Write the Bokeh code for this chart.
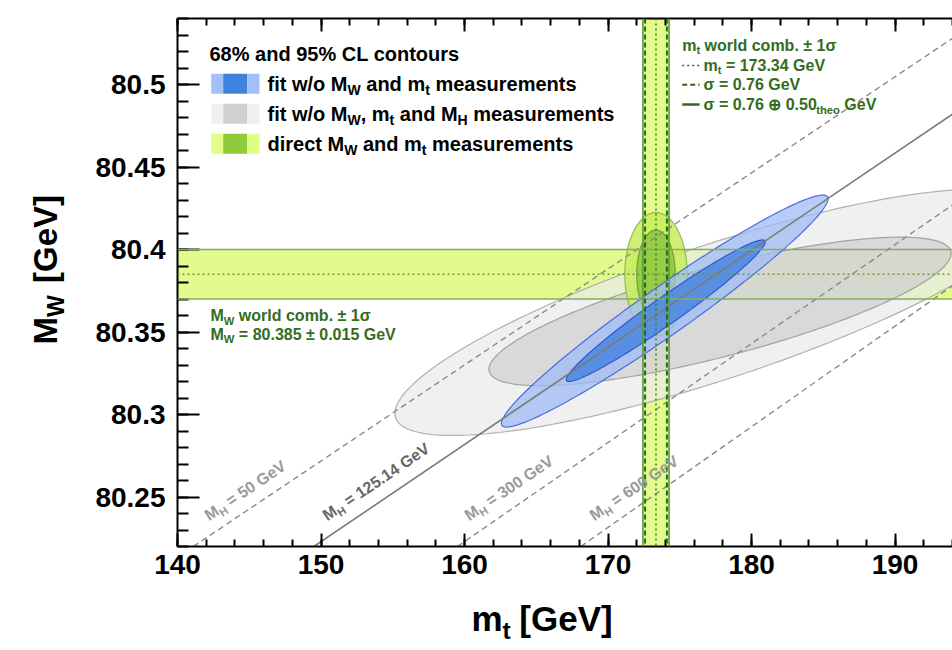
import math
import numpy as np
from bokeh.plotting import figure
from bokeh.models import (Label, BoxAnnotation, Span, LinearAxis, FixedTicker,
                          CustomJSTickFormatter, Range1d)
from bokeh.embed import file_html
from bokeh.resources import INLINE

# ---------------- data ----------------
x_ticks = [140, 150, 160, 170, 180, 190]
y_ticks = [80.25, 80.30, 80.35, 80.40, 80.45, 80.50]
x_minor = list(range(140, 196, 2))
y_minor = [round(80.22 + 0.01 * i, 2) for i in range(33)]

# world combinations (direct measurements)
mt_world = 173.34
mt_err_exp = 0.76
mt_err_theo = 0.50
mw_world = 80.385
mw_err = 0.015

# 68% / 95% CL contours: centre, half extents, correlation
contour_names = ["gray95", "gray68", "green95", "green68", "blue95", "blue68"]
contour_mt = [177.5, 177.8, 173.34, 173.34, 173.95, 174.02]
contour_mw = [80.362, 80.3625, 80.385, 80.385, 80.3627, 80.3629]
contour_dmt = [22.35, 16.1, 2.17, 1.34, 11.38, 6.93]
contour_dmw = [0.0747, 0.0450, 0.0374, 0.0268, 0.0703, 0.0429]
contour_rho = [0.82, 0.78, 0.0, 0.0, 0.968, 0.972]

# SM prediction lines for fixed M_H
mh_labels = ["50", "125.14", "300", "600"]
mh_mt_start = [141.1, 149.5, 159.5, 168.1]
mh_mw_start = [80.22, 80.22, 80.22, 80.22]
mh_mt_end = [194.0, 194.0, 194.0, 194.0]
mh_mw_end = [80.528, 80.482, 80.427, 80.378]

# ---------------- styles ----------------
X0, X1 = 140.0, 194.0
Y0, Y1 = 80.22, 80.54
W_FIG, H_FIG = 952, 650
BL, BR, BT, BB = 177, 0, 18, 104
FL, FT = BL, BT
FW, FH = W_FIG - BL - BR, H_FIG - BT - BB
FONT = "Liberation Sans"
GREEN_TXT = "#346c1c"
BASE_FIX = 0.36   # empirical lift of text anchor (fraction of font size)

fill_colors = {"gray95": "#e9e9e9", "gray68": "#cfcfcf", "green95": "#c9ec5c",
               "green68": "#8dc63f", "blue95": "#9fbcf6", "blue68": "#4a86e0"}
fill_alphas = {"gray95": 0.7, "gray68": 0.7, "green95": 0.85, "green68": 0.85,
               "blue95": 0.75, "blue68": 0.85}
line_colors = {"gray95": "#a8a8a8", "gray68": "#9a9a9a", "green95": "#8ab44a",
               "green68": "#6a9a30", "blue95": "#3d5fe0", "blue68": "#2a4fd0"}


def to_data(px, py):
    return (X0 + (px - FL) / FW * (X1 - X0), Y1 - (py - FT) / FH * (Y1 - Y0))


CW = {' ': .278, '%': .889, '.': .278, '=': .584, '[': .333, ']': .333, '/': .278,
      ',': .278, '±': .584, 'σ': .62, '⊕': .84, '0': .556, '1': .556, '2': .556,
      '3': .556, '4': .556, '5': .556, '6': .556, '7': .556, '8': .556, '9': .556,
      'C': .722, 'G': .778, 'H': .722, 'L': .611, 'M': .833, 'V': .667, 'W': .944,
      'a': .556, 'b': .611, 'c': .556, 'd': .611, 'e': .556, 'f': .333, 'h': .611,
      'i': .278, 'l': .278, 'm': .889, 'n': .611, 'o': .611, 'r': .389, 's': .556,
      't': .333, 'u': .611, 'w': .778}


def text_width(s, size):
    return sum(CW.get(c, 0.6) for c in s) * size


p = figure(width=W_FIG, height=H_FIG, output_backend="svg", toolbar_location=None,
           x_range=Range1d(X0, X1), y_range=Range1d(Y0, Y1),
           min_border_left=BL, min_border_right=BR, min_border_top=BT,
           min_border_bottom=BB, x_axis_location=None, y_axis_location=None)
p.outline_line_color = None
p.xgrid.visible = False
p.ygrid.visible = False
p.background_fill_color = "white"


def make_label(txt, qx, qy, fs, color, a, place):
    # lift the anchor perpendicular to the text direction
    qx -= BASE_FIX * fs * math.sin(a)
    qy -= BASE_FIX * fs * math.cos(a)
    x, y = to_data(qx, qy)
    lab = Label(x=x, y=y, text=txt, angle=a, text_font=FONT,
                text_font_style="bold", text_font_size=f"{fs:.1f}px",
                text_color=color, text_baseline="alphabetic", text_align="left")
    if place == "center":
        p.add_layout(lab)
    else:
        p.add_layout(lab, place)


def rich(runs, px, py, size, color, angle_deg=0.0):
    a = math.radians(angle_deg)
    ux, uy = math.cos(a), -math.sin(a)   # advance direction in image px (y down)
    nx, ny = math.sin(a), math.cos(a)    # "down" direction in image px
    adv = 0.0
    for txt, kind in runs:
        fs = size * 0.7 if kind == "s" else size
        drop = 0.22 * size if kind == "s" else 0.0
        lead = len(txt) - len(txt.lstrip(" "))
        trail = len(txt) - len(txt.rstrip(" "))
        core = txt.strip(" ")
        adv += lead * CW[' '] * fs
        make_label(core, px + adv * ux + drop * nx, py + adv * uy + drop * ny,
                   fs, color, a, "center")
        adv += text_width(core, fs) + trail * CW[' '] * fs


def axis_title(main, gap, sub, px, py, size, angle_deg, place_main, place_sub):
    """main letter + gap (non-collapsing spaces) + '[GeV]' in one label, subscript apart"""
    a = math.radians(angle_deg)
    ux, uy = math.cos(a), -math.sin(a)
    nx, ny = math.sin(a), math.cos(a)
    make_label(main + gap + "[GeV]", px, py, size, "black", a, place_main)
    adv = text_width(main, size)
    drop = 0.22 * size
    make_label(sub, px + adv * ux + drop * nx, py + adv * uy + drop * ny,
               size * 0.7, "black", a, place_sub)


# ---------------- bands ----------------
band_fill = "#e3fb8c"
mt_err_tot = math.hypot(mt_err_exp, mt_err_theo)
p.add_layout(BoxAnnotation(bottom=mw_world - mw_err, top=mw_world + mw_err,
                           fill_color=band_fill, fill_alpha=1.0, line_color=None,
                           level="underlay"))
p.add_layout(BoxAnnotation(left=mt_world - mt_err_tot, right=mt_world + mt_err_tot,
                           fill_color=band_fill, fill_alpha=1.0, line_color=None,
                           level="underlay"))

# ---------------- contours ----------------
t = np.linspace(0, 2 * np.pi, 240)
for name, cx, cy, dx, dy, r in zip(contour_names, contour_mt, contour_mw,
                                   contour_dmt, contour_dmw, contour_rho):
    xs = cx + dx * np.cos(t)
    ys = cy + dy * (r * np.cos(t) + math.sqrt(1 - r * r) * np.sin(t))
    p.patch(xs, ys, fill_color=fill_colors[name], fill_alpha=fill_alphas[name],
            line_color=line_colors[name], line_width=1.2, line_alpha=0.9)

# ---------------- M_H lines ----------------
for lab, xa, ya, xb, yb in zip(mh_labels, mh_mt_start, mh_mw_start, mh_mt_end, mh_mw_end):
    if lab == "125.14":
        p.line([xa, xb], [ya, yb], line_color="#7a7a7a", line_width=1.6)
    else:
        p.line([xa, xb], [ya, yb], line_color="#8a8a8a", line_width=1.4,
               line_dash="6 4")

# band edges
for v, dash, col, lw in [(mw_world - mw_err, "solid", "#7fae5c", 1.6),
                         (mw_world + mw_err, "solid", "#7fae5c", 1.6),
                         (mw_world, "2 3", "#6a9a40", 1.4)]:
    p.add_layout(Span(location=v, dimension="width", line_color=col,
                      line_dash=dash, line_width=lw))
for v, dash, col, lw in [(mt_world - mt_err_tot, "solid", "#5f9a3c", 1.6),
                         (mt_world + mt_err_tot, "solid", "#5f9a3c", 1.6),
                         (mt_world - mt_err_exp, "5 3", "#1f6a16", 2.0),
                         (mt_world + mt_err_exp, "5 3", "#1f6a16", 2.0),
                         (mt_world, "2 3", "#3d7d22", 1.5)]:
    p.add_layout(Span(location=v, dimension="height", line_color=col,
                      line_dash=dash, line_width=lw))

# ---------------- axes ----------------
fmt = CustomJSTickFormatter(code="return String(Number(tick.toFixed(3)));")
xax = LinearAxis(ticker=FixedTicker(ticks=x_ticks, minor_ticks=x_minor), formatter=fmt)
yax = LinearAxis(ticker=FixedTicker(ticks=y_ticks, minor_ticks=y_minor), formatter=fmt)
tax = LinearAxis(ticker=FixedTicker(ticks=x_ticks, minor_ticks=x_minor), formatter=fmt)
for ax, maj, mnr in [(xax, 13, 7), (yax, 22, 11), (tax, 13, 7)]:
    ax.axis_line_width = 2
    ax.axis_line_color = "black"
    ax.major_tick_line_width = 2
    ax.minor_tick_line_width = 2
    ax.major_tick_in = maj
    ax.major_tick_out = 0
    ax.minor_tick_in = mnr
    ax.minor_tick_out = 0
    ax.major_label_text_font = FONT
    ax.major_label_text_font_style = "bold"
    ax.major_label_text_color = "black"
xax.major_label_text_font_size = "28px"
xax.major_label_standoff = 8
yax.major_label_text_font_size = "28px"
yax.major_label_standoff = 12
tax.major_label_text_font_size = "1px"
tax.major_label_text_color = None
tax.major_label_standoff = 0
p.add_layout(xax, "below")
p.add_layout(yax, "left")
p.add_layout(tax, "above")

# axis titles (side panels, so they are not clipped to the frame)
axis_title("m", "\u00a0\u2009", "t", 471.0, 631.0, 35, 0, "below", "left")
axis_title("M", "\u00a0\u00a0\u00a0\u2009", "W", 57.0, 344.0, 33, 90, "left", "left")

# ---------------- legend (top-left) ----------------
rich([("68% and 95% CL contours", "n")], 209.0, 61.0, 20, "black")
leg_light = ["#a3bff7", "#efefef", "#e2fd86"]
leg_dark = ["#3f82dd", "#d0d0d0", "#8fcb3a"]
leg_rows_y = [83.3, 113.3, 143.3]
leg_runs = [
    [("fit w/o M", "n"), ("W", "s"), (" and m", "n"), ("t", "s"), (" measurements", "n")],
    [("fit w/o M", "n"), ("W", "s"), (", m", "n"), ("t", "s"), (" and M", "n"), ("H", "s"),
     (" measurements", "n")],
    [("direct M", "n"), ("W", "s"), (" and m", "n"), ("t", "s"), (" measurements", "n")],
]
for yc, lc, dc, runs in zip(leg_rows_y, leg_light, leg_dark, leg_runs):
    xa, ya = to_data(210.7, yc + 10)
    xb, yb = to_data(222.7, yc - 10)
    xc, _ = to_data(246.7, yc)
    xd, _ = to_data(259.0, yc)
    p.quad(left=[xa, xb, xc], right=[xb, xc, xd], bottom=[ya] * 3, top=[yb] * 3,
           fill_color=[lc, dc, lc], line_color=None)
    rich(runs, 267.0, yc + 7.0, 20, "black")

# ---------------- m_t legend (top-right) ----------------
rich([("m", "n"), ("t", "s"), (" world comb. ± 1σ", "n")], 681.7, 50.5, 16, GREEN_TXT)
for yc, dash, lw in [(65.0, "2 3", 1.6), (84.3, "5 3", 2.0), (104.0, "solid", 2.4)]:
    xa, ya = to_data(681.7, yc)
    xb, _ = to_data(699.0, yc)
    p.line([xa, xb], [ya, ya], line_color="#2f6a18", line_dash=dash, line_width=lw)
rich([("m", "n"), ("t", "s"), (" = 173.34 GeV", "n")], 703.0, 70.5, 16, GREEN_TXT)
rich([("σ = 0.76 GeV", "n")], 703.0, 90.0, 16, GREEN_TXT)
rich([("σ = 0.76 ⊕ 0.50", "n"), ("theo", "s"), (" GeV", "n")], 703.0, 110.0, 16, GREEN_TXT)

# ---------------- M_W legend (left) ----------------
rich([("M", "n"), ("W", "s"), (" world comb. ± 1σ", "n")], 210.0, 321.0, 16, GREEN_TXT)
rich([("M", "n"), ("W", "s"), (" = 80.385 ± 0.015 GeV", "n")], 210.0, 339.5, 16, GREEN_TXT)

# ---------------- M_H labels ----------------
mh_label_px = [209.0, 327.0, 469.0, 594.0]
for lab, lx in zip(mh_labels, mh_label_px):
    col = "#666666" if lab == "125.14" else "#9a9a9a"
    rich([("M", "n"), ("H", "s"), (f" = {lab} GeV", "n")], lx, 521.0, 16, col, 34)

open("out.html", "w").write(file_html(p, INLINE))
